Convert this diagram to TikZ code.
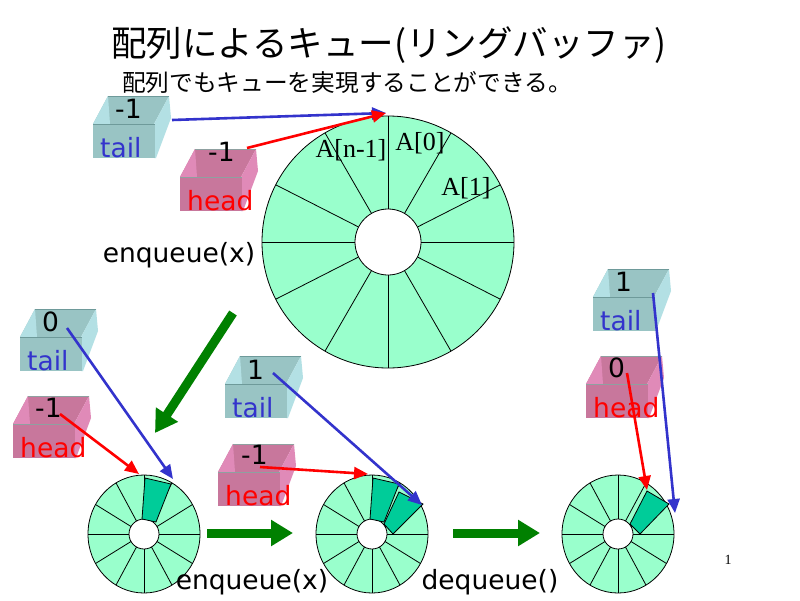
\documentclass[tikz,border=0pt]{standalone}
\usepackage{fontspec}
\setmainfont{DejaVu Sans}
\newfontfamily\jpfont{Noto Sans CJK JP}
\newfontfamily\serifA{Liberation Serif}
\usetikzlibrary{arrows.meta}
\definecolor{ringlt}{HTML}{99FFCC}
\definecolor{ringdk}{HTML}{00CC99}
\definecolor{tailfront}{HTML}{99C4C4}
\definecolor{tailside}{HTML}{B3E0E4}
\definecolor{tailedge}{HTML}{6E9A9A}
\definecolor{headfront}{HTML}{C8779C}
\definecolor{headside}{HTML}{E08AB8}
\definecolor{headedge}{HTML}{8FA0A0}
\definecolor{ptrblue}{HTML}{3333CC}
\definecolor{ptrred}{HTML}{FF0000}
\definecolor{opgreen}{HTML}{008000}

% #1 name, #2 x0, #3 y0, #4 kind, #5 number, #6 number position, #7 label
\newcommand\qbox[7]{%
\begin{scope}[shift={(#2,#3)}]
 \coordinate (#1) at (0,0);
 \fill[#4front] (0,0) -- (15,-28) -- (76,-28) -- (61,0) -- cycle;
 \fill[#4side] (0,0) -- (15,-28) -- (17,0) -- cycle;
 \fill[#4side] (61,0) -- (76,-28) -- (78,-6) -- (63,34) -- (61,34) -- cycle;
 \fill[#4front] (0,0) rectangle (62,34);
 \draw[#4edge, line width=1pt] (15,-28) -- (76,-28);
 \draw[#4edge, line width=1pt] (0,0) -- (62,0);
 \node[num] (#1-num) at #6 {#5};
 \node[#4txt] (#1-lbl) at (7,33) {#7};
\end{scope}}

% #1 cx, #2 cy
\newcommand\smallring[2]{%
 \filldraw[fill=ringlt, draw=black, line width=0.8pt] (#1,#2) ellipse [x radius=56pt, y radius=59pt];
 \foreach \a in {0,30,...,330}
   \draw[ringline] ({#1+15*cos(\a)},{#2-15*sin(\a)}) -- ({#1+56*cos(\a)},{#2-59*sin(\a)});
 \filldraw[fill=white, draw=black, line width=0.8pt] (#1,#2) circle [radius=15pt];
}

\begin{document}
\begin{tikzpicture}[x=1pt,y=-1pt,
  lbl/.style={font=\fontsize{26.5}{30}\selectfont, inner sep=0pt},
  num/.style={lbl, anchor=west, text=black},
  tailtxt/.style={lbl, anchor=base west, text=ptrblue},
  headtxt/.style={lbl, anchor=base west, text=ptrred},
  ser/.style={font=\serifA\fontsize{26}{30}\selectfont, inner sep=0pt},
  ptr/.style={line width=2.6pt, -{Triangle[length=14pt,width=12pt]}},
  opar/.style={opgreen, line width=9pt, -{Triangle[length=22pt,width=25pt]}},
  ringline/.style={black, line width=0.8pt},
  dkseg/.style={fill=ringdk, draw=black, line width=0.8pt}]
\useasboundingbox (0,0) rectangle (800,600);
\fill[white] (0,0) rectangle (800,600);

% titles
\node[font=\jpfont\fontsize{35.5}{40}\selectfont, inner sep=0pt] (title) at (389,45) {配列によるキュー(リングバッファ)};
\node[font=\jpfont\fontsize{23.7}{28}\selectfont, inner sep=0pt] (subtitle) at (347,82) {配列でもキューを実現することができる。};

% big ring
\coordinate (bigc) at (388,242);
\filldraw[fill=ringlt, draw=black, line width=0.8pt] (bigc) circle [radius=126pt];
\foreach \a in {0,27,60,90,120,153,180,207,240,270,300,333}
  \draw[ringline] ({388+33*cos(\a)},{242-33*sin(\a)}) -- ({388+126*cos(\a)},{242-126*sin(\a)});
\filldraw[fill=white, draw=black, line width=0.8pt] (bigc) circle [radius=33pt];
\node[ser] (an1) at (351,150) {A[n-1]};
\node[ser] (a0) at (420,143) {A[0]};
\node[ser] (a1) at (466,188) {A[1]};

% small rings
\smallring{144}{534}
\smallring{372}{534}
\smallring{618}{534}
\begin{scope}[shift={(144,534)}]
 \draw[dkseg] (-2,-15) -- (1,-56) -- (27,-50) -- (12,-12) -- cycle;
\end{scope}
\begin{scope}[shift={(372,534)}]
 \draw[dkseg] (-2,-15) -- (1,-56) -- (27,-50) -- (12,-12) -- cycle;
 \draw[dkseg] (12,-10) -- (27,-42) -- (51,-30) -- (21,0) -- cycle;
\end{scope}
\begin{scope}[shift={(618,534)}]
 \draw[dkseg] (12,-10) -- (29,-43) -- (51,-30) -- (22,0) -- cycle;
\end{scope}

% boxes
\qbox{tA}{93}{124}{tail}{-1}{(22,-15)}{tail}
\qbox{hA}{180}{177}{head}{-1}{(28,-25)}{head}
\qbox{tB}{20}{337}{tail}{0}{(22,-15)}{tail}
\qbox{hB}{13}{424}{head}{-1}{(22,-16)}{head}
\qbox{tC}{225}{384}{tail}{1}{(22,-14)}{tail}
\qbox{hC}{218}{472}{head}{-1}{(23,-17)}{head}
\qbox{tD}{593}{297}{tail}{1}{(22,-15)}{tail}
\qbox{hD}{586}{384}{head}{0}{(22,-16)}{head}

% pointer coordinates
\coordinate (tA-p) at (172,120);
\coordinate (hA-p) at (247,148);
\coordinate (bigtip) at (386,113);
\coordinate (tB-p) at (67,328);
\coordinate (hB-p) at (60,414);
\coordinate (r1b) at (173,479);
\coordinate (r1a) at (139,474);
\coordinate (tC-p) at (273,373);
\coordinate (hC-p) at (260,467);
\coordinate (r2b) at (422,505);
\coordinate (r2a) at (368,474);
\coordinate (tD-p) at (653,293);
\coordinate (hD-p) at (627,373);
\coordinate (r3b) at (675,513);
\coordinate (r3a) at (647,490);

\draw[ptr, ptrblue] (tA-p) -- (bigtip);
\draw[ptr, ptrred] (hA-p) -- (bigtip);
\draw[ptr, ptrblue] (tB-p) -- (r1b);
\draw[ptr, ptrred] (hB-p) -- (r1a);
\draw[ptr, ptrblue] (tC-p) -- (r2b);
\draw[ptr, ptrred] (hC-p) -- (r2a);
\draw[ptr, ptrblue] (tD-p) -- (r3b);
\draw[ptr, ptrred] (hD-p) -- (r3a);

% operation arrows
\coordinate (g1s) at (233,313);
\coordinate (g1e) at (155,433);
\coordinate (g2s) at (207,533);
\coordinate (g2e) at (293,533);
\coordinate (g3s) at (453,533);
\coordinate (g3e) at (540,533);
\draw[opar] (g1s) -- (g1e);
\draw[opar] (g2s) -- (g2e);
\draw[opar] (g3s) -- (g3e);

% operation labels
\node[lbl] (enq1) at (179,255) {enqueue(x)};
\node[lbl] (enq2) at (252,582) {enqueue(x)};
\node[lbl] (deq) at (490,582) {dequeue()};
\node[font=\serifA\fontsize{14}{16}\selectfont, inner sep=0pt] (pageno) at (728,560) {1};
\end{tikzpicture}
\end{document}
